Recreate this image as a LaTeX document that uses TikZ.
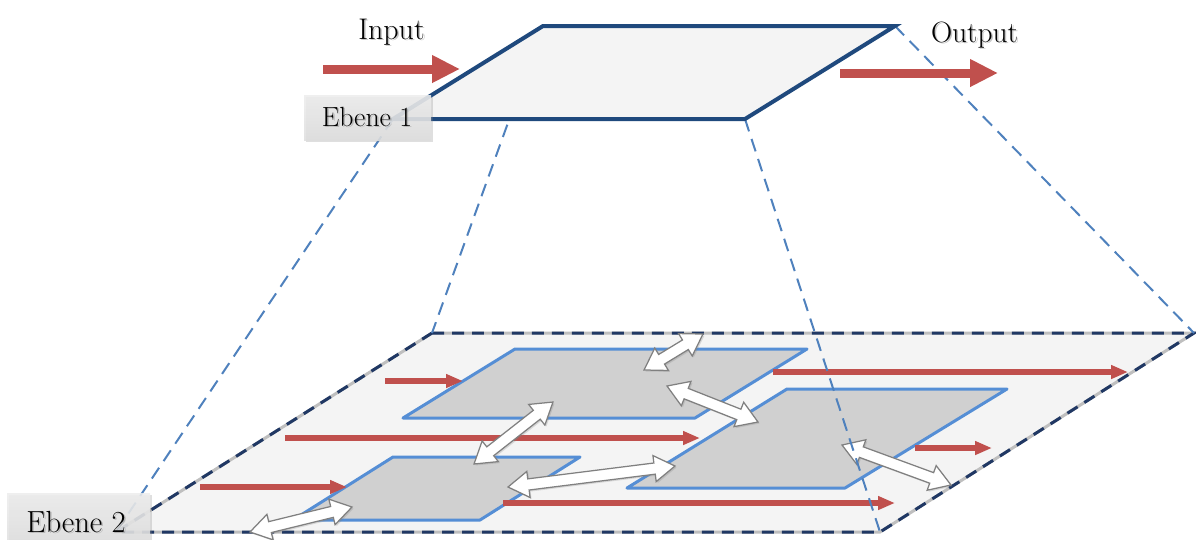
\documentclass[tikz,border=0pt]{standalone}
\usetikzlibrary{arrows.meta,shapes.arrows,shadows,calc}
\definecolor{rd}{HTML}{C0504D}
\definecolor{dkb}{HTML}{1F497D}
\definecolor{ltb}{HTML}{4F81BD}
\definecolor{mdb}{HTML}{558ED5}
\definecolor{bdr}{HTML}{203864}
\definecolor{planefill}{HTML}{F4F4F4}
\definecolor{innerfill}{HTML}{D0D0D0}
\newcommand\wdarrow[2]{\path let \p1=($(#2)-(#1)$), \n1={atan2(\y1,\x1)}, \n2={veclen(\x1,\y1)} in node[wdbl, minimum height=\n2, rotate=\n1] at ($(#1)!0.5!(#2)$) {};}
\newcommand\shtext[3]{\node[txt, text=black!45, opacity=0.5] at ($(#1)+(1.5,1.5)$) {#2#3};\node[txt] at (#1) {#2#3};}
\begin{document}
\begin{tikzpicture}[x=0.02cm,y=-0.02cm,
  connector/.style={ltb, line width=0.04cm, dash pattern=on 0.26cm off 0.16cm},
  topplane/.style={draw=dkb, line width=0.08cm, fill=planefill},
  innerplane/.style={draw=mdb, line width=0.06cm, fill=innerfill, line join=round},
  bigred/.style={rd, line width=0.18cm, -{Triangle[length=0.56cm,width=0.52cm]}},
  smallred/.style={rd, line width=0.12cm, -{Triangle[length=0.34cm,width=0.26cm]}},
  wdbl/.style={double arrow, draw=black!50, fill=white, line width=0.025cm,
    inner xsep=0pt, inner ysep=0.1cm, double arrow head extend=0.15cm,
    double arrow tip angle=65, minimum width=0.5cm,
    drop shadow={opacity=0.25,shadow xshift=0.03cm,shadow yshift=-0.03cm}},
  lblbox/.style={top color=black!7, bottom color=black!13, draw=none, opacity=0.88,
    drop shadow={opacity=0.25,shadow xshift=0.04cm,shadow yshift=-0.04cm}},
  txt/.style={anchor=base, inner sep=0pt}
]
\useasboundingbox (0,0) rectangle (1196,539);
% corners
\coordinate (T1) at (543,26); \coordinate (T2) at (895,26);
\coordinate (T3) at (745,119); \coordinate (T4) at (393,119);
\coordinate (B1) at (432,333); \coordinate (B2) at (1194,333);
\coordinate (B3) at (880,532); \coordinate (B4) at (116,532);
% bottom plane
\fill[planefill] (B1) -- (B2) -- (B3) -- (B4) -- cycle;
\draw[black!25, line width=0.06cm] (B1) -- (B2) -- (B3) -- (B4) -- cycle;
\draw[bdr, line width=0.06cm, dash pattern=on 0.24cm off 0.16cm] (B1) -- (B2) -- (B3) -- (B4) -- cycle;
% inner planes
\draw[innerplane] (515,349) -- (807,349) -- (695,418) -- (403,418) -- cycle;
\draw[innerplane] (787,389) -- (1007,389) -- (845,488) -- (627,488) -- cycle;
\draw[innerplane] (393,457) -- (580,457) -- (480,520) -- (293,520) -- cycle;
% red arrows level 2
\coordinate (r1a) at (385,381); \coordinate (r1b) at (463,381);
\coordinate (r2a) at (285,438); \coordinate (r2b) at (700,438);
\coordinate (r3a) at (200,487); \coordinate (r3b) at (347,487);
\coordinate (r4a) at (503,503); \coordinate (r4b) at (895,503);
\coordinate (r5a) at (773,372); \coordinate (r5b) at (1128,372);
\coordinate (r6a) at (915,448); \coordinate (r6b) at (992,448);
\foreach \i in {1,...,6}{\draw[smallred] (r\i a) -- (r\i b);}
% white double arrows
\coordinate (w1a) at (644,370); \coordinate (w1b) at (703,334);
\coordinate (w2a) at (667,386); \coordinate (w2b) at (758,422);
\coordinate (w3a) at (553,402); \coordinate (w3b) at (474,464);
\coordinate (w4a) at (508,487); \coordinate (w4b) at (675,466);
\coordinate (w5a) at (842,445); \coordinate (w5b) at (951,485);
\coordinate (w6a) at (250,532); \coordinate (w6b) at (352,507);
\wdarrow{w1a}{w1b}
\wdarrow{w2a}{w2b}
\wdarrow{w3a}{w3b}
\wdarrow{w4a}{w4b}
\wdarrow{w5a}{w5b}
\wdarrow{w6a}{w6b}
% connectors
\draw[connector] (T1) -- (B1);
\draw[connector] (T2) -- (B2);
\draw[connector] (T3) -- (B3);
\draw[connector] (T4) -- (B4);
% top plane
\draw[topplane] (T1) -- (T2) -- (T3) -- (T4) -- cycle;
% input / output arrows
\coordinate (ina) at (323,69); \coordinate (inb) at (460,69);
\coordinate (outa) at (840,73); \coordinate (outb) at (998,73);
\draw[bigred] (ina) -- (inb);
\draw[bigred] (outa) -- (outb);
% label boxes
\path[lblbox] (304,95) rectangle (431,140);
\path[lblbox] (7,493) rectangle (150,548);
% texts
\coordinate (tin) at (391.5,39);
\coordinate (tout) at (974.5,42);
\coordinate (te1) at (367,126);
\coordinate (te2) at (76,532);
\shtext{tin}{\fontsize{17}{20}\selectfont}{Input}
\shtext{tout}{\fontsize{16.7}{20}\selectfont}{Output}
\shtext{te1}{\fontsize{15.8}{19}\selectfont}{Ebene 1}
\shtext{te2}{\fontsize{17.4}{20}\selectfont}{Ebene 2}
\end{tikzpicture}
\end{document}
